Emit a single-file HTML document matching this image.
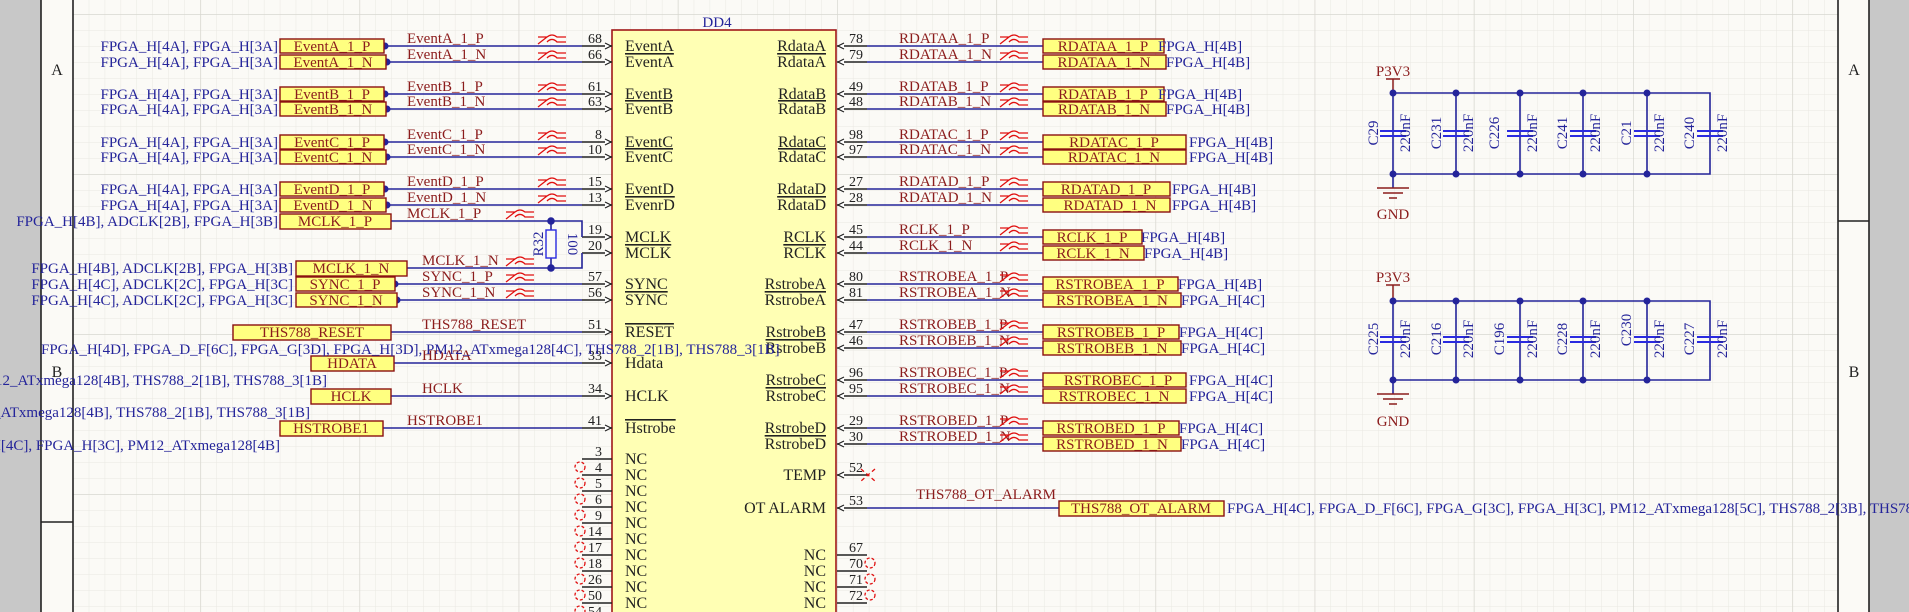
<!DOCTYPE html>
<html><head><meta charset="utf-8"><style>
html,body{margin:0;padding:0;background:#fbfaf6;}
svg{display:block;}
text{font-family:"Liberation Serif",serif;}
.b{fill:#24249a;font-size:15px;}
.r{fill:#8b1c1c;font-size:15px;}
.k{fill:#222;font-size:16px;}
.n{fill:#222;font-size:14px;}
.w{stroke:#24249a;stroke-width:1.6;fill:none;}
.p{stroke:#222;stroke-width:1.4;fill:none;}
.pt{fill:#ffff80;stroke:#8b1010;stroke-width:1.4;}
.d{fill:#24249a;}
.ds{stroke:#e01010;stroke-width:1.3;fill:none;}
.nc{stroke:#e01010;stroke-width:1.3;fill:none;stroke-dasharray:3 2;}
</style></head><body>
<svg width="1909" height="612" viewBox="0 0 1909 612" xmlns="http://www.w3.org/2000/svg">
<defs>
<pattern id="g" x="41" y="14" width="15.92" height="16" patternUnits="userSpaceOnUse">
<path d="M0 0H15.92M0 0V16" stroke="#e9e8e2" stroke-width="1"/></pattern>
<pattern id="G" x="41" y="14" width="159.2" height="160" patternUnits="userSpaceOnUse">
<path d="M0 0H159.2M0 0V160" stroke="#d8d7d0" stroke-width="1.4"/></pattern>
<g id="ds"><path d="M0 8 L9 1 Q14 -3 19 1 L28 1 M9 6 Q14 1 19 6 L28 6 M9 1 L0 1" class="ds"/></g>
<g id="al"><path d="M-6 -3 L0 0 L-6 3" stroke="#222" stroke-width="1.2" fill="#fff"/></g>
<g id="ar"><path d="M6 -3 L0 0 L6 3" stroke="#222" stroke-width="1.2" fill="#fff"/></g>
</defs>
<rect width="1909" height="612" fill="#fbfaf6"/>
<rect x="73" y="0" width="1765" height="612" fill="url(#g)"/>
<rect x="73" y="0" width="1765" height="612" fill="url(#G)"/>
<rect x="0" y="0" width="41" height="612" fill="#c8c8c8"/>
<rect x="1869" y="0" width="40" height="612" fill="#c8c8c8"/>
<rect x="41" y="0" width="32" height="612" fill="#fbfaf6"/>
<rect x="1838" y="0" width="31" height="612" fill="#fbfaf6"/>
<path d="M41 0V612M73 0V612M41 522H73M1838 0V612M1869 0V612M1838 221H1869" stroke="#222" stroke-width="1.6"/>
<text x="57" y="75" class="k" text-anchor="middle" font-size="15">A</text>
<text x="57" y="377" class="k" text-anchor="middle" font-size="15">B</text>
<text x="1854" y="75" class="k" text-anchor="middle" font-size="15">A</text>
<text x="1854" y="377" class="k" text-anchor="middle" font-size="15">B</text>

<rect x="612" y="30" width="224" height="600" fill="#ffffb4" stroke="#a01818" stroke-width="1.6"/>
<text x="717" y="27" class="b" text-anchor="middle" font-size="16">DD4</text>

<path class="p" d="M582 46H612M582 62H612M582 94H612M582 109H612M582 142H612M582 157H612M582 189H612M582 205H612M582 237H612M582 253H612M582 284H612M582 300H612M582 332H612M582 363H612M582 396H612M582 428H612M582 459H612M582 475H612M582 491H612M582 507H612M582 523H612M582 539H612M582 555H612M582 571H612M582 587H612M582 603H612"/>
<g>
<use href="#al" x="611" y="46"/><use href="#al" x="611" y="62"/><use href="#al" x="611" y="94"/><use href="#al" x="611" y="109"/><use href="#al" x="611" y="142"/><use href="#al" x="611" y="157"/><use href="#al" x="611" y="189"/><use href="#al" x="611" y="205"/><use href="#al" x="611" y="237"/><use href="#al" x="611" y="253"/><use href="#al" x="611" y="284"/><use href="#al" x="611" y="300"/><use href="#al" x="611" y="332"/><use href="#al" x="611" y="363"/><use href="#al" x="611" y="396"/><use href="#al" x="611" y="428"/>
</g>
<g class="n" text-anchor="end">
<text x="602" y="43">68</text><text x="602" y="59">66</text><text x="602" y="91">61</text><text x="602" y="106">63</text><text x="602" y="139">8</text><text x="602" y="154">10</text><text x="602" y="186">15</text><text x="602" y="202">13</text><text x="602" y="234">19</text><text x="602" y="250">20</text><text x="602" y="281">57</text><text x="602" y="297">56</text><text x="602" y="329">51</text><text x="602" y="360">33</text><text x="602" y="393">34</text><text x="602" y="425">41</text>
<text x="602" y="456">3</text><text x="602" y="472">4</text><text x="602" y="488">5</text><text x="602" y="504">6</text><text x="602" y="520">9</text><text x="602" y="536">14</text><text x="602" y="552">17</text><text x="602" y="568">18</text><text x="602" y="584">26</text><text x="602" y="600">50</text><text x="602" y="616">54</text>
</g>
<g class="nc">
<circle cx="580" cy="467" r="5"/><circle cx="580" cy="483" r="5"/><circle cx="580" cy="499" r="5"/><circle cx="580" cy="515" r="5"/><circle cx="580" cy="531" r="5"/><circle cx="580" cy="547" r="5"/><circle cx="580" cy="563" r="5"/><circle cx="580" cy="579" r="5"/><circle cx="580" cy="595" r="5"/><circle cx="580" cy="611" r="5"/>
</g>
<g class="k">
<text x="625" y="51">EventA</text><text x="625" y="67" text-decoration="overline">EventA</text>
<text x="625" y="99">EventB</text><text x="625" y="114" text-decoration="overline">EventB</text>
<text x="625" y="147">EventC</text><text x="625" y="162" text-decoration="overline">EventC</text>
<text x="625" y="194">EventD</text><text x="625" y="210" text-decoration="overline">EvenrD</text>
<text x="625" y="242">MCLK</text><text x="625" y="258" text-decoration="overline">MCLK</text>
<text x="625" y="289">SYNC</text><text x="625" y="305" text-decoration="overline">SYNC</text>
<text x="625" y="337" text-decoration="overline">RESET</text>
<text x="625" y="368">Hdata</text>
<text x="625" y="401">HCLK</text>
<text x="625" y="433" text-decoration="overline">Hstrobe</text>
<text x="625" y="464">NC</text><text x="625" y="480">NC</text><text x="625" y="496">NC</text><text x="625" y="512">NC</text><text x="625" y="528">NC</text><text x="625" y="544">NC</text><text x="625" y="560">NC</text><text x="625" y="576">NC</text><text x="625" y="592">NC</text><text x="625" y="608">NC</text>
</g>
<g class="k" text-anchor="end">
<text x="826" y="51">RdataA</text><text x="826" y="67" text-decoration="overline">RdataA</text>
<text x="826" y="99">RdataB</text><text x="826" y="114" text-decoration="overline">RdataB</text>
<text x="826" y="147">RdataC</text><text x="826" y="162" text-decoration="overline">RdataC</text>
<text x="826" y="194">RdataD</text><text x="826" y="210" text-decoration="overline">RdataD</text>
<text x="826" y="242">RCLK</text><text x="826" y="258" text-decoration="overline">RCLK</text>
<text x="826" y="289">RstrobeA</text><text x="826" y="305" text-decoration="overline">RstrobeA</text>
<text x="826" y="337">RstrobeB</text><text x="826" y="353" text-decoration="overline">RstrobeB</text>
<text x="826" y="385">RstrobeC</text><text x="826" y="401" text-decoration="overline">RstrobeC</text>
<text x="826" y="433">RstrobeD</text><text x="826" y="449" text-decoration="overline">RstrobeD</text>
<text x="826" y="480">TEMP</text>
<text x="826" y="513">OT ALARM</text>
<text x="826" y="560">NC</text><text x="826" y="576">NC</text><text x="826" y="592">NC</text><text x="826" y="608">NC</text>
</g>
<path class="p" d="M837 46H867M837 62H867M837 94H867M837 109H867M837 142H867M837 157H867M837 189H867M837 205H867M837 237H867M837 253H867M837 284H867M837 300H867M837 332H867M837 348H867M837 380H867M837 396H867M837 428H867M837 444H867M837 475H867M837 508H867M837 555H867M837 571H867M837 587H867M837 603H867"/>
<g>
<use href="#ar" x="838" y="46"/><use href="#ar" x="838" y="62"/><use href="#ar" x="838" y="94"/><use href="#ar" x="838" y="109"/><use href="#ar" x="838" y="142"/><use href="#ar" x="838" y="157"/><use href="#ar" x="838" y="189"/><use href="#ar" x="838" y="205"/><use href="#ar" x="838" y="237"/><use href="#ar" x="838" y="253"/><use href="#ar" x="838" y="284"/><use href="#ar" x="838" y="300"/><use href="#ar" x="838" y="332"/><use href="#ar" x="838" y="348"/><use href="#ar" x="838" y="380"/><use href="#ar" x="838" y="396"/><use href="#ar" x="838" y="428"/><use href="#ar" x="838" y="444"/><use href="#ar" x="838" y="475"/><use href="#ar" x="838" y="508"/>
</g>
<g class="n">
<text x="849" y="43">78</text><text x="849" y="59">79</text><text x="849" y="91">49</text><text x="849" y="106">48</text><text x="849" y="139">98</text><text x="849" y="154">97</text><text x="849" y="186">27</text><text x="849" y="202">28</text><text x="849" y="234">45</text><text x="849" y="250">44</text><text x="849" y="281">80</text><text x="849" y="297">81</text><text x="849" y="329">47</text><text x="849" y="345">46</text><text x="849" y="377">96</text><text x="849" y="393">95</text><text x="849" y="425">29</text><text x="849" y="441">30</text><text x="849" y="472">52</text><text x="849" y="505">53</text><text x="849" y="552">67</text><text x="849" y="568">70</text><text x="849" y="584">71</text><text x="849" y="600">72</text>
</g>
<path class="ds" d="M861 469L875 481M875 469L861 481" stroke-dasharray="4 3"/>
<g class="nc"><circle cx="870" cy="563" r="5"/><circle cx="870" cy="579" r="5"/><circle cx="870" cy="595" r="5"/></g>

<path class="w" d="M386 46H582M386 62H582M386 94H582M386 109H582M386 142H582M386 157H582M386 189H582M386 205H582M391 221H582V237M407 268H582V253M395 284H582M395 300H582M391 332H582M394 363H582M391 396H582M383 428H582M551 221V268"/>
<g class="d">
<circle cx="385" cy="46" r="3.5"/><circle cx="387" cy="62" r="3.5"/><circle cx="385" cy="94" r="3.5"/><circle cx="387" cy="109" r="3.5"/><circle cx="385" cy="142" r="3.5"/><circle cx="387" cy="157" r="3.5"/><circle cx="385" cy="189" r="3.5"/><circle cx="387" cy="205" r="3.5"/><circle cx="551" cy="221" r="3.8"/><circle cx="551" cy="268" r="3.8"/><circle cx="395" cy="284" r="3.5"/><circle cx="397" cy="300" r="3.5"/>
</g>
<rect x="546" y="230" width="10" height="28" fill="#fbfaf6" stroke="#2a2ae0" stroke-width="1.4"/>
<text transform="translate(543,244) rotate(-90)" class="b" text-anchor="middle" font-size="13">R32</text>
<text transform="translate(568,244) rotate(90)" class="b" text-anchor="middle" font-size="13">100</text>

<g>
<rect class="pt" x="280" y="39" width="104" height="14"/><rect class="pt" x="280" y="55" width="106" height="14"/>
<rect class="pt" x="280" y="87" width="104" height="14"/><rect class="pt" x="280" y="102" width="106" height="14"/>
<rect class="pt" x="280" y="135" width="104" height="14"/><rect class="pt" x="280" y="150" width="106" height="14"/>
<rect class="pt" x="280" y="182" width="104" height="14"/><rect class="pt" x="280" y="198" width="106" height="14"/>
<rect class="pt" x="280" y="214" width="111" height="15"/>
<rect class="pt" x="296" y="261" width="111" height="15"/>
<rect class="pt" x="296" y="277" width="99" height="14"/><rect class="pt" x="296" y="293" width="101" height="14"/>
<rect class="pt" x="233" y="325" width="158" height="15"/>
<rect class="pt" x="311" y="356" width="83" height="15"/>
<rect class="pt" x="311" y="389" width="80" height="15"/>
<rect class="pt" x="280" y="421" width="103" height="15"/>
</g>
<g class="r" text-anchor="middle">
<text x="332" y="51">EventA_1_P</text><text x="333" y="67">EventA_1_N</text>
<text x="332" y="99">EventB_1_P</text><text x="333" y="114">EventB_1_N</text>
<text x="332" y="147">EventC_1_P</text><text x="333" y="162">EventC_1_N</text>
<text x="332" y="194">EventD_1_P</text><text x="333" y="210">EventD_1_N</text>
<text x="335" y="226">MCLK_1_P</text>
<text x="351" y="273">MCLK_1_N</text>
<text x="345" y="289">SYNC_1_P</text><text x="346" y="305">SYNC_1_N</text>
<text x="312" y="337">THS788_RESET</text>
<text x="352" y="368">HDATA</text>
<text x="351" y="401">HCLK</text>
<text x="331" y="433">HSTROBE1</text>
</g>
<g class="r">
<text x="407" y="43">EventA_1_P</text><text x="407" y="59">EventA_1_N</text>
<text x="407" y="91">EventB_1_P</text><text x="407" y="106">EventB_1_N</text>
<text x="407" y="139">EventC_1_P</text><text x="407" y="154">EventC_1_N</text>
<text x="407" y="186">EventD_1_P</text><text x="407" y="202">EventD_1_N</text>
<text x="407" y="218">MCLK_1_P</text>
<text x="422" y="265">MCLK_1_N</text>
<text x="422" y="281">SYNC_1_P</text><text x="422" y="297">SYNC_1_N</text>
<text x="422" y="329">THS788_RESET</text>
<text x="422" y="360">HDATA</text>
<text x="422" y="393">HCLK</text>
<text x="407" y="425">HSTROBE1</text>
</g>
<g>
<use href="#ds" x="538" y="36"/><use href="#ds" x="538" y="52"/><use href="#ds" x="538" y="84"/><use href="#ds" x="538" y="99"/><use href="#ds" x="538" y="132"/><use href="#ds" x="538" y="147"/><use href="#ds" x="538" y="179"/><use href="#ds" x="538" y="195"/><use href="#ds" x="506" y="211"/><use href="#ds" x="506" y="258"/><use href="#ds" x="506" y="274"/><use href="#ds" x="506" y="290"/>
</g>
<g class="b" text-anchor="end">
<text x="278" y="51">FPGA_H[4A], FPGA_H[3A]</text><text x="278" y="67">FPGA_H[4A], FPGA_H[3A]</text>
<text x="278" y="99">FPGA_H[4A], FPGA_H[3A]</text><text x="278" y="114">FPGA_H[4A], FPGA_H[3A]</text>
<text x="278" y="147">FPGA_H[4A], FPGA_H[3A]</text><text x="278" y="162">FPGA_H[4A], FPGA_H[3A]</text>
<text x="278" y="194">FPGA_H[4A], FPGA_H[3A]</text><text x="278" y="210">FPGA_H[4A], FPGA_H[3A]</text>
<text x="278" y="226">FPGA_H[4B], ADCLK[2B], FPGA_H[3B]</text>
<text x="293" y="273">FPGA_H[4B], ADCLK[2B], FPGA_H[3B]</text>
<text x="293" y="289">FPGA_H[4C], ADCLK[2C], FPGA_H[3C]</text>
<text x="293" y="305">FPGA_H[4C], ADCLK[2C], FPGA_H[3C]</text>
<text x="327" y="385">M12_ATxmega128[4B], THS788_2[1B], THS788_3[1B]</text>
<text x="310" y="417">2_ATxmega128[4B], THS788_2[1B], THS788_3[1B]</text>
<text x="280" y="450">H[4C], FPGA_H[3C], PM12_ATxmega128[4B]</text>
</g>
<text x="41" y="354" class="b">FPGA_H[4D], FPGA_D_F[6C], FPGA_G[3D], FPGA_H[3D], PM12_ATxmega128[4C], THS788_2[1B], THS788_3[1B]</text>

<path class="w" d="M867 46H1043M867 62H1043M867 94H1043M867 109H1043M867 142H1043M867 157H1043M867 189H1043M867 205H1043M867 237H1043M867 253H1043M867 284H1043M867 300H1043M867 332H1043M867 348H1043M867 380H1043M867 396H1043M867 428H1043M867 444H1043M867 508H1059"/>
<g>
<rect class="pt" x="1043" y="39" width="121" height="14"/><rect class="pt" x="1043" y="55" width="123" height="14"/>
<rect class="pt" x="1043" y="87" width="121" height="14"/><rect class="pt" x="1043" y="102" width="123" height="14"/>
<rect class="pt" x="1043" y="135" width="143" height="14"/><rect class="pt" x="1043" y="150" width="143" height="14"/>
<rect class="pt" x="1043" y="182" width="127" height="14"/><rect class="pt" x="1043" y="198" width="127" height="14"/>
<rect class="pt" x="1043" y="230" width="99" height="14"/><rect class="pt" x="1043" y="246" width="101" height="14"/>
<rect class="pt" x="1043" y="277" width="135" height="14"/><rect class="pt" x="1043" y="293" width="138" height="14"/>
<rect class="pt" x="1043" y="325" width="136" height="14"/><rect class="pt" x="1043" y="341" width="138" height="14"/>
<rect class="pt" x="1043" y="373" width="143" height="14"/><rect class="pt" x="1043" y="389" width="143" height="14"/>
<rect class="pt" x="1043" y="421" width="136" height="14"/><rect class="pt" x="1043" y="437" width="138" height="14"/>
<rect class="pt" x="1059" y="501" width="165" height="15"/>
</g>
<g class="r" text-anchor="middle">
<text x="1103" y="51">RDATAA_1_P</text><text x="1104" y="67">RDATAA_1_N</text>
<text x="1103" y="99">RDATAB_1_P</text><text x="1104" y="114">RDATAB_1_N</text>
<text x="1114" y="147">RDATAC_1_P</text><text x="1114" y="162">RDATAC_1_N</text>
<text x="1106" y="194">RDATAD_1_P</text><text x="1110" y="210">RDATAD_1_N</text>
<text x="1092" y="242">RCLK_1_P</text><text x="1093" y="258">RCLK_1_N</text>
<text x="1110" y="289">RSTROBEA_1_P</text><text x="1112" y="305">RSTROBEA_1_N</text>
<text x="1111" y="337">RSTROBEB_1_P</text><text x="1112" y="353">RSTROBEB_1_N</text>
<text x="1118" y="385">RSTROBEC_1_P</text><text x="1114" y="401">RSTROBEC_1_N</text>
<text x="1111" y="433">RSTROBED_1_P</text><text x="1112" y="449">RSTROBED_1_N</text>
<text x="1141" y="513">THS788_OT_ALARM</text>
</g>
<g class="r">
<text x="899" y="43">RDATAA_1_P</text><text x="899" y="59">RDATAA_1_N</text>
<text x="899" y="91">RDATAB_1_P</text><text x="899" y="106">RDATAB_1_N</text>
<text x="899" y="139">RDATAC_1_P</text><text x="899" y="154">RDATAC_1_N</text>
<text x="899" y="186">RDATAD_1_P</text><text x="899" y="202">RDATAD_1_N</text>
<text x="899" y="234">RCLK_1_P</text><text x="899" y="250">RCLK_1_N</text>
<text x="899" y="281">RSTROBEA_1_P</text><text x="899" y="297">RSTROBEA_1_N</text>
<text x="899" y="329">RSTROBEB_1_P</text><text x="899" y="345">RSTROBEB_1_N</text>
<text x="899" y="377">RSTROBEC_1_P</text><text x="899" y="393">RSTROBEC_1_N</text>
<text x="899" y="425">RSTROBED_1_P</text><text x="899" y="441">RSTROBED_1_N</text>
<text x="916" y="499">THS788_OT_ALARM</text>
</g>
<g>
<use href="#ds" x="1000" y="36"/><use href="#ds" x="1000" y="52"/><use href="#ds" x="1000" y="84"/><use href="#ds" x="1000" y="99"/><use href="#ds" x="1000" y="132"/><use href="#ds" x="1000" y="147"/><use href="#ds" x="1000" y="179"/><use href="#ds" x="1000" y="195"/><use href="#ds" x="1000" y="227"/><use href="#ds" x="1000" y="243"/><use href="#ds" x="1000" y="274"/><use href="#ds" x="1000" y="290"/><use href="#ds" x="1000" y="322"/><use href="#ds" x="1000" y="338"/><use href="#ds" x="1000" y="370"/><use href="#ds" x="1000" y="386"/><use href="#ds" x="1000" y="418"/><use href="#ds" x="1000" y="434"/>
</g>
<g class="b">
<text x="1158" y="51">FPGA_H[4B]</text><text x="1166" y="67">FPGA_H[4B]</text>
<text x="1158" y="99">FPGA_H[4B]</text><text x="1166" y="114">FPGA_H[4B]</text>
<text x="1189" y="147">FPGA_H[4B]</text><text x="1189" y="162">FPGA_H[4B]</text>
<text x="1172" y="194">FPGA_H[4B]</text><text x="1172" y="210">FPGA_H[4B]</text>
<text x="1141" y="242">FPGA_H[4B]</text><text x="1144" y="258">FPGA_H[4B]</text>
<text x="1178" y="289">FPGA_H[4B]</text><text x="1181" y="305">FPGA_H[4C]</text>
<text x="1179" y="337">FPGA_H[4C]</text><text x="1181" y="353">FPGA_H[4C]</text>
<text x="1189" y="385">FPGA_H[4C]</text><text x="1189" y="401">FPGA_H[4C]</text>
<text x="1179" y="433">FPGA_H[4C]</text><text x="1181" y="449">FPGA_H[4C]</text>
<text x="1227" y="513">FPGA_H[4C], FPGA_D_F[6C], FPGA_G[3C], FPGA_H[3C], PM12_ATxmega128[5C], THS788_2[3B], THS788_3[1B]</text>
</g>

<g>
<text x="1393" y="76" class="r" text-anchor="middle" font-size="14">P3V3</text>
<path d="M1386 79H1400M1393 79V93" stroke="#8b1c1c" stroke-width="1.5"/>
<path class="w" d="M1393 93H1710V174H1393ZM1456 93V174M1520 93V174M1583 93V174M1647 93V174M1393 174V188"/>
<path d="M1380 131H1406M1380 136H1406M1443 131H1469M1443 136H1469M1507 131H1533M1507 136H1533M1570 131H1596M1570 136H1596M1634 131H1660M1634 136H1660M1697 131H1723M1697 136H1723" stroke="#2a2ae0" stroke-width="2"/>
<g class="d"><circle cx="1393" cy="93" r="3.5"/><circle cx="1456" cy="93" r="3.5"/><circle cx="1520" cy="93" r="3.5"/><circle cx="1583" cy="93" r="3.5"/><circle cx="1647" cy="93" r="3.5"/><circle cx="1393" cy="174" r="3.5"/><circle cx="1456" cy="174" r="3.5"/><circle cx="1520" cy="174" r="3.5"/><circle cx="1583" cy="174" r="3.5"/><circle cx="1647" cy="174" r="3.5"/></g>
<path d="M1377 188H1409M1383 193H1403M1389 198H1397" stroke="#8b1c1c" stroke-width="1.5"/>
<text x="1393" y="219" class="r" text-anchor="middle" font-size="14">GND</text>
<g class="b" font-size="13" text-anchor="middle">
<text transform="translate(1378,133) rotate(-90)">C29</text><text transform="translate(1410,133) rotate(-90)">220nF</text>
<text transform="translate(1441,133) rotate(-90)">C231</text><text transform="translate(1473,133) rotate(-90)">220nF</text>
<text transform="translate(1499,133) rotate(-90)">C226</text><text transform="translate(1537,133) rotate(-90)">220nF</text>
<text transform="translate(1567,133) rotate(-90)">C241</text><text transform="translate(1600,133) rotate(-90)">220nF</text>
<text transform="translate(1631,133) rotate(-90)">C21</text><text transform="translate(1664,133) rotate(-90)">220nF</text>
<text transform="translate(1694,133) rotate(-90)">C240</text><text transform="translate(1727,133) rotate(-90)">220nF</text>
</g>
</g>
<g>
<text x="1393" y="282" class="r" text-anchor="middle" font-size="14">P3V3</text>
<path d="M1386 285H1400M1393 285V301" stroke="#8b1c1c" stroke-width="1.5"/>
<path class="w" d="M1393 301H1710V380H1393ZM1456 301V380M1520 301V380M1583 301V380M1647 301V380M1393 380V394"/>
<path d="M1380 337H1406M1380 342H1406M1443 337H1469M1443 342H1469M1507 337H1533M1507 342H1533M1570 337H1596M1570 342H1596M1634 337H1660M1634 342H1660M1697 337H1723M1697 342H1723" stroke="#2a2ae0" stroke-width="2"/>
<g class="d"><circle cx="1393" cy="301" r="3.5"/><circle cx="1456" cy="301" r="3.5"/><circle cx="1520" cy="301" r="3.5"/><circle cx="1583" cy="301" r="3.5"/><circle cx="1647" cy="301" r="3.5"/><circle cx="1393" cy="380" r="3.5"/><circle cx="1456" cy="380" r="3.5"/><circle cx="1520" cy="380" r="3.5"/><circle cx="1583" cy="380" r="3.5"/><circle cx="1647" cy="380" r="3.5"/></g>
<path d="M1377 394H1409M1383 399H1403M1389 404H1397" stroke="#8b1c1c" stroke-width="1.5"/>
<text x="1393" y="426" class="r" text-anchor="middle" font-size="14">GND</text>
<g class="b" font-size="13" text-anchor="middle">
<text transform="translate(1378,339) rotate(-90)">C225</text><text transform="translate(1410,339) rotate(-90)">220nF</text>
<text transform="translate(1441,339) rotate(-90)">C216</text><text transform="translate(1473,339) rotate(-90)">220nF</text>
<text transform="translate(1504,339) rotate(-90)">C196</text><text transform="translate(1537,339) rotate(-90)">220nF</text>
<text transform="translate(1567,339) rotate(-90)">C228</text><text transform="translate(1600,339) rotate(-90)">220nF</text>
<text transform="translate(1631,330) rotate(-90)">C230</text><text transform="translate(1664,339) rotate(-90)">220nF</text>
<text transform="translate(1694,339) rotate(-90)">C227</text><text transform="translate(1727,339) rotate(-90)">220nF</text>
</g>
</g>
</svg>
</body></html>
